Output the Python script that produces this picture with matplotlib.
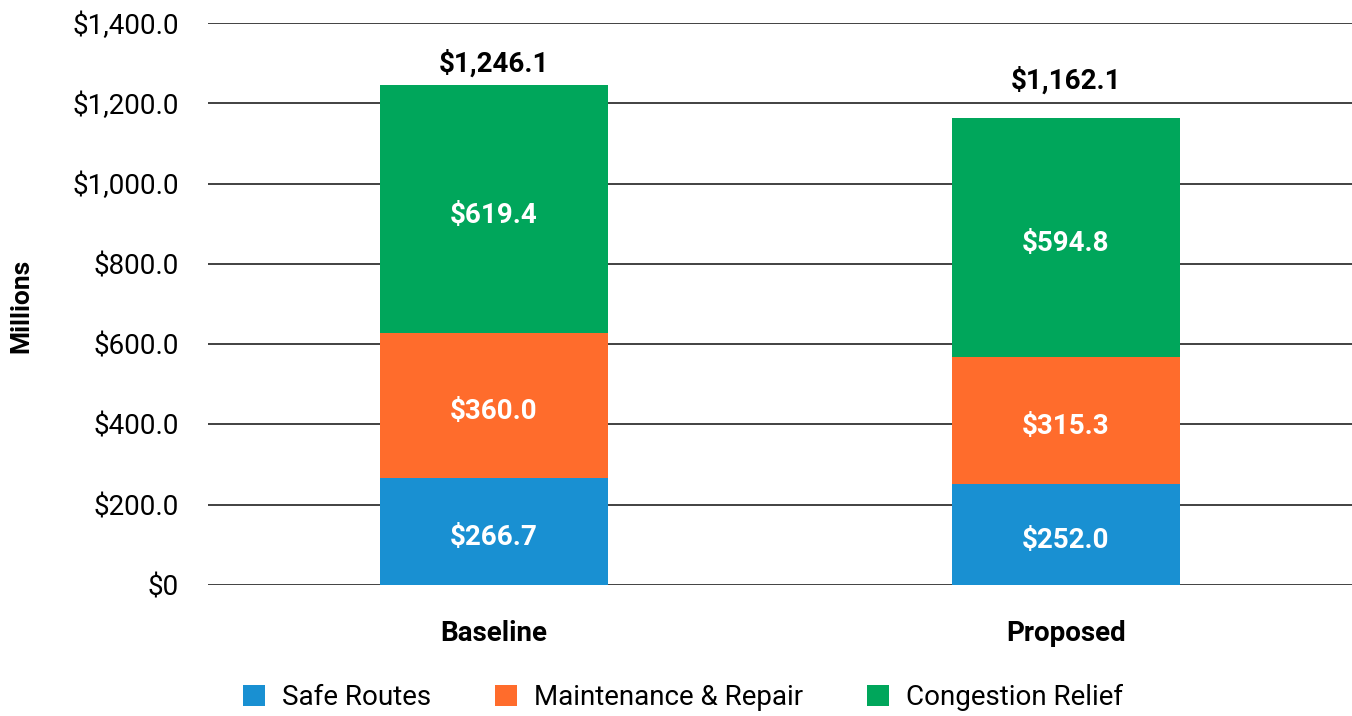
import numpy as np
import matplotlib
matplotlib.use("Agg")
import matplotlib.pyplot as plt
from matplotlib.ticker import FuncFormatter

plt.rcParams['font.family'] = ['Roboto', 'DejaVu Sans']

# data (millions)
scenarios = ["Baseline", "Proposed"]
safe_routes = [266.7, 252.0]
maintenance = [360.0, 315.3]
congestion = [619.4, 594.8]
totals = [1246.1, 1162.1]

series_names = ["Safe Routes", "Maintenance & Repair", "Congestion Relief"]
colors = ["#1990d2", "#ff6c2c", "#00a65b"]

fig = plt.figure(figsize=(13.52, 7.16), dpi=100)
ax = fig.add_axes([0.1538, 0.183, 0.8462, 0.785])

x = np.arange(len(scenarios))
bottom = np.zeros(len(scenarios))
for vals, name, col in zip([safe_routes, maintenance, congestion], series_names, colors):
    ax.bar(x, vals, width=0.4, bottom=bottom, color=col, label=name, zorder=3)
    for xi, b, v in zip(x, bottom, vals):
        ax.text(xi, b + v / 2, f"${v:,.1f}", ha="center", va="center",
                color="white", fontsize=20, fontweight="bold", zorder=4,
                transform=ax.transData + matplotlib.transforms.ScaledTranslation(0, -0.06, fig.dpi_scale_trans))
    bottom += np.array(vals)

# total labels sit at slightly different heights in the original
total_pad = [5, 17]
for xi, t, pad in zip(x, totals, total_pad):
    ax.annotate(f"${t:,.1f}", (xi, t), xytext=(0, pad), textcoords="offset points",
                ha="center", va="bottom", color="black", fontsize=20, fontweight="bold")

ax.set_xlim(-0.5, 1.5)
ax.set_ylim(0, 1400)
ax.set_yticks(np.arange(0, 1401, 200))
ax.yaxis.set_major_formatter(FuncFormatter(lambda v, p: "$0" if v == 0 else f"${v:,.1f}"))
ax.grid(axis="y", color="#333333", linewidth=1.3, zorder=0)
ax.set_axisbelow(True)
for s in ax.spines.values():
    s.set_visible(False)
ax.tick_params(axis="y", length=0, pad=21, labelsize=20)
ax.tick_params(axis="x", length=0, pad=25, labelsize=20)
ax.set_xticks(x)
ax.set_xticklabels(scenarios, fontweight="bold")
ax.set_ylabel("Millions", fontsize=19, fontweight="bold")
ax.yaxis.set_label_coords(-0.153, 0.496)

ax.legend(loc="center", bbox_to_anchor=(0.415, -0.201), ncol=3, frameon=False,
          fontsize=20, handlelength=0.8, handleheight=0.8, columnspacing=2.3,
          handletextpad=0.6)

fig.savefig("out.png", dpi=100)
